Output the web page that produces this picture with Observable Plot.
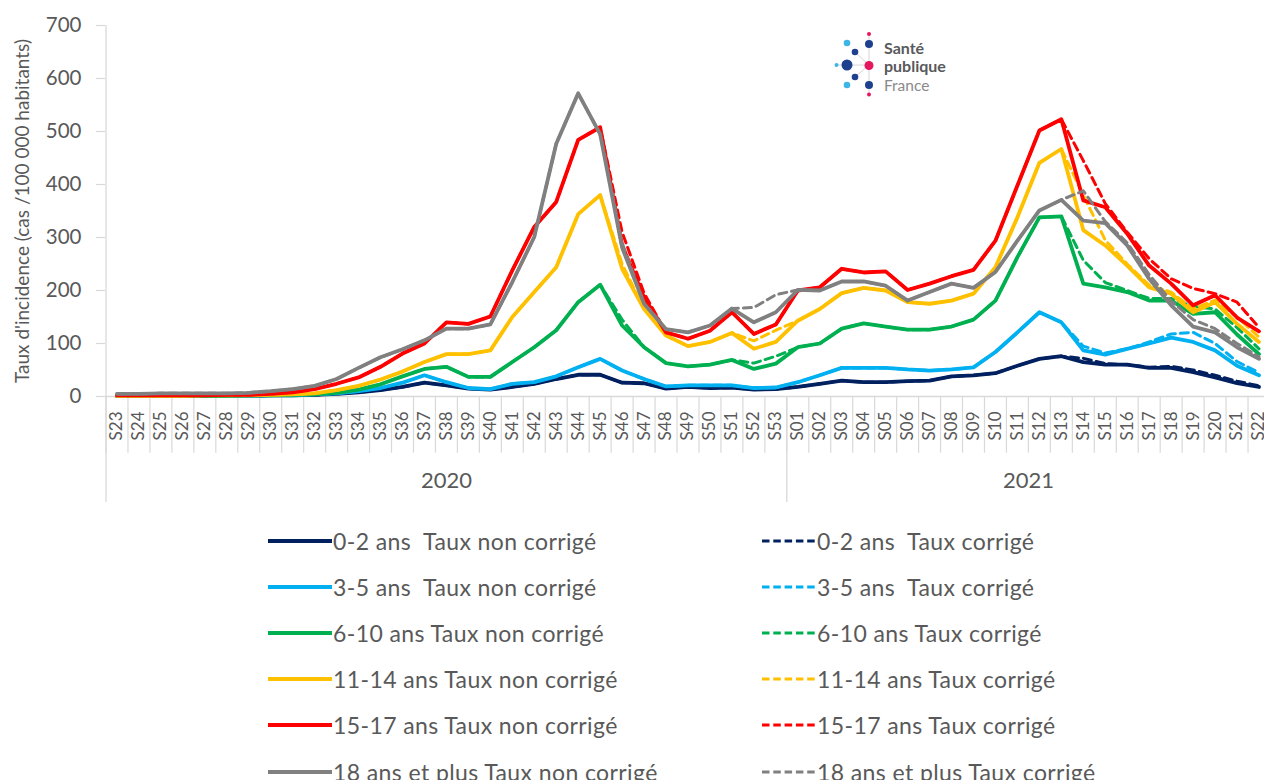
<!DOCTYPE html>
<html><head><meta charset="utf-8">
<script src="https://cdn.jsdelivr.net/npm/d3@7"></script>
<script src="https://cdn.jsdelivr.net/npm/@observablehq/plot@0.6"></script>
<style>
html,body{margin:0;padding:0;background:#fff;overflow:hidden;}
#wrap{position:relative;width:1264px;height:780px;overflow:hidden;font-family:Lato,"Open Sans",sans-serif;color:#595959;}
#chart{position:absolute;left:0;top:0;}
.lg{position:absolute;display:flex;align-items:center;height:30px;font-size:23px;letter-spacing:0.4px;white-space:pre;color:#595959;}
.lg svg{display:block;margin-right:1px;}
#logo{position:absolute;left:825px;top:25px;}
</style></head><body><div id="wrap"><div id="chart"></div><div id="legend"></div>
<svg id="logo" width="145" height="80" viewBox="0 0 145 80">
  <g stroke="#d6d6d6" stroke-width="1" fill="none">
    <line x1="44" y1="9" x2="44" y2="70"/><line x1="11" y1="40" x2="44" y2="40"/>
    <line x1="30" y1="27" x2="44" y2="40"/><line x1="30" y1="52" x2="44" y2="40"/>
  </g>
  <circle cx="44" cy="9" r="2" fill="#e5175f"/>
  <circle cx="22" cy="18" r="3.3" fill="#3db5e6"/>
  <circle cx="44" cy="19" r="4" fill="#1f3f8f"/>
  <circle cx="30" cy="27" r="3.3" fill="#1f3f8f"/>
  <circle cx="11.5" cy="40" r="2" fill="#3db5e6"/>
  <circle cx="22" cy="40" r="5.5" fill="#1f3f8f"/>
  <circle cx="44" cy="40.5" r="4.5" fill="#e5175f"/>
  <circle cx="30" cy="52" r="3.3" fill="#1f3f8f"/>
  <circle cx="22" cy="60" r="3.3" fill="#3db5e6"/>
  <circle cx="44" cy="60" r="4" fill="#1f3f8f"/>
  <circle cx="44" cy="69.5" r="2" fill="#e5175f"/>
  <text x="59" y="29" font-family="Lato" font-weight="bold" font-size="16" fill="#58595b">Santé</text>
  <text x="59" y="46.5" font-family="Lato" font-weight="bold" font-size="16" fill="#58595b">publique</text>
  <text x="59" y="65.5" font-family="Lato" font-size="15.5" fill="#8a8a8a">France</text>
</svg>
</div>
<script>
// ---- categories ----
const weeks = ["S23","S24","S25","S26","S27","S28","S29","S30","S31","S32","S33","S34","S35","S36","S37","S38","S39","S40","S41","S42","S43","S44","S45","S46","S47","S48","S49","S50","S51","S52","S53",
  "S01","S02","S03","S04","S05","S06","S07","S08","S09","S10","S11","S12","S13","S14","S15","S16","S17","S18","S19","S20","S21","S22"];
const yearLabels = ["2020","2021"];
const yearFirstWeek = ["S23","S01"];
const yearLastWeek = ["S53","S22"];
const yTicks = [0,100,200,300,400,500,600,700];
const yTitle = "Taux d'incidence (cas /100 000 habitants)";

// ---- series values (cas / 100 000) ----
const nc_0_2 = [1,1,1,1,1,1,1,2,2,3,5,8,12,18,26,21,15,13,18,24,33,41,41,26,25,15,18,16,17,13,14,
  18,24,30,27,27,29,30,38,40,44,58,71,76,65,60,60,54,54,46,36,25,18];
const c_0_2 = [1,1,1,1,1,1,1,2,2,3,5,8,12,18,26,21,15,13,18,24,33,41,41,26,25,15,18,16,17,13,14,
  18,24,30,27,27,29,30,38,40,44,58,71,76,72,62,60,55,57,50,40,29,20];
const nc_3_5 = [1,1,1,1,1,1,1,2,2,4,6,10,16,26,40,27,16,14,24,27,38,55,71,49,33,19,21,21,21,16,17,
  27,40,54,54,54,51,49,51,55,84,121,159,140,87,79,90,100,111,103,87,58,40];
const c_3_5 = [1,1,1,1,1,1,1,2,2,4,6,10,16,26,40,27,16,14,24,27,38,55,71,49,33,19,21,21,21,16,17,
  27,40,54,54,54,51,49,51,55,84,121,159,140,95,82,90,103,118,121,100,66,45];
const nc_6_10 = [1,1,1,1,1,1,2,2,3,4,7,13,23,38,52,56,37,37,65,93,125,178,211,134,93,63,57,60,69,52,62,
  93,100,128,138,132,126,126,132,145,181,263,338,340,213,206,197,181,181,156,159,117,80];
const c_6_10 = [1,1,1,1,1,1,2,2,3,4,7,13,23,38,52,56,37,37,65,93,125,178,211,145,93,63,57,60,69,63,76,
  93,100,128,138,132,126,126,132,145,181,263,338,340,257,215,200,185,185,170,165,130,90];
const nc_11_14 = [1,1,1,1,2,2,2,3,4,6,12,20,32,47,65,80,80,87,150,197,244,344,380,241,165,115,95,103,120,90,103,
  143,165,195,205,200,178,175,181,194,244,338,441,467,314,285,247,206,194,159,178,137,103];
const c_11_14 = [1,1,1,1,2,2,2,3,4,6,12,20,32,47,65,80,80,87,150,197,244,344,380,250,165,115,95,103,120,105,125,
  143,165,195,205,200,178,175,181,194,244,338,441,467,380,295,250,210,197,165,182,150,112];
const nc_15_17 = [2,2,2,2,2,3,3,5,8,14,24,36,56,81,100,140,137,151,238,320,367,484,508,285,187,121,109,124,159,118,136,
  200,206,241,234,236,201,213,227,239,294,398,502,523,370,357,307,247,213,172,191,149,123];
const c_15_17 = [2,2,2,2,2,3,3,5,8,14,24,36,56,81,100,140,137,151,238,320,367,484,508,310,195,121,109,124,159,118,136,
  200,206,241,234,236,201,213,227,239,294,398,502,523,445,364,310,260,222,204,194,178,130];
const nc_18 = [5,5,6,6,6,6,7,10,14,20,33,54,74,89,106,128,128,136,216,301,477,572,495,281,175,127,121,134,166,140,159,
  201,200,217,217,209,181,197,213,205,235,294,351,371,332,327,285,222,172,132,121,93,71];
const c_18 = [5,5,6,6,6,6,7,10,14,20,33,54,74,89,106,128,128,136,216,301,477,572,495,290,175,127,121,134,166,168,192,
  201,200,217,217,209,181,197,213,205,235,294,351,371,388,330,290,230,180,145,128,100,75];

// ---- legend labels ----
const labelsNC = ["0-2 ans  Taux non corrigé","3-5 ans  Taux non corrigé","6-10 ans Taux non corrigé","11-14 ans Taux non corrigé","15-17 ans Taux non corrigé","18 ans et plus Taux non corrigé"];
const labelsC = ["0-2 ans  Taux corrigé","3-5 ans  Taux corrigé","6-10 ans Taux corrigé","11-14 ans Taux corrigé","15-17 ans Taux corrigé","18 ans et plus Taux corrigé"];

// ---- styles ----
const colors = ["#002060","#00B0F0","#00B050","#FFC000","#FF0000","#808080"];
const ncSeries = [nc_0_2, nc_3_5, nc_6_10, nc_11_14, nc_15_17, nc_18];
const cSeries = [c_0_2, c_3_5, c_6_10, c_11_14, c_15_17, c_18];
const textColor = "#595959", gridColor = "#d9d9d9";
const W = 1264, H = 515, x0 = 116.5, x1 = 1258.5;
const step = (x1 - x0) / (weeks.length - 1);
const dash = "8,5";

const rows = [];
ncSeries.forEach((vals, k) => {
  vals.forEach((v, i) => rows.push({week: weeks[i], value: v, series: labelsNC[k], k, type: "nc"}));
  cSeries[k].forEach((v, i) => rows.push({week: weeks[i], value: v, series: labelsC[k], k, type: "c"}));
});

const lineMarks = [];
colors.forEach((col, k) => {
  lineMarks.push(Plot.line(rows.filter(r => r.k === k && r.type === "nc"), {x: "week", y: "value", stroke: col, strokeWidth: 3.8, strokeLinejoin: "round", strokeLinecap: "round"}));
  lineMarks.push(Plot.line(rows.filter(r => r.k === k && r.type === "c"), {x: "week", y: "value", stroke: col, strokeWidth: 3, strokeDasharray: dash, strokeLinejoin: "round"}));
});

const yearMarks = yearLabels.map((lab, j) => {
  const i0 = weeks.indexOf(yearFirstWeek[j]), i1 = weeks.indexOf(yearLastWeek[j]);
  const mid = (i0 + i1) / 2;
  return Plot.text([lab], {x: () => weeks[Math.floor(mid)], frameAnchor: "bottom", dx: (mid % 1) * step, dy: 91, text: d => d, fontSize: 22, fill: textColor});
});

const chart = Plot.plot({
  width: W, height: H,
  marginLeft: 105, marginRight: 0, marginTop: 25, marginBottom: H - 396,
  x: {type: "point", domain: weeks, range: [x0, x1], padding: 0, align: 0.5, axis: null},
  y: {domain: [0, 700], range: [396, 25], axis: null},
  style: {fontFamily: "Lato, sans-serif", background: "transparent", overflow: "visible", color: textColor},
  marks: [
    Plot.ruleX(weeks, {x: d => d, y1: 0, y2: -107, dx: -step / 2, stroke: gridColor, strokeWidth: 1.2}),
    Plot.ruleX([yearFirstWeek[0]], {x: d => d, y1: 700, y2: -200, dx: -step / 2, stroke: gridColor, strokeWidth: 1.3}),
    Plot.ruleX(yearFirstWeek.slice(1), {x: d => d, y1: 0, y2: -200, dx: -step / 2, stroke: gridColor, strokeWidth: 1.3}),
    Plot.ruleY([0], {stroke: gridColor, strokeWidth: 1.4}),
    Plot.ruleY(yTicks, {y: d => d, insetLeft: -9, insetRight: W - 105, stroke: gridColor, strokeWidth: 1.2}),
    Plot.text(yTicks, {y: d => d, text: d => String(d), frameAnchor: "left", textAnchor: "end", dx: -24, fontSize: 20.5, fill: textColor}),
    Plot.text([yTitle], {frameAnchor: "left", textAnchor: "middle", dx: -83, rotate: -90, text: d => d, fontSize: 19, fill: textColor}),
    Plot.text(weeks, {x: d => d, y: 0, text: d => d, rotate: -90, textAnchor: "end", dy: 15, fontSize: 17, fill: textColor}),
    ...yearMarks,
    ...lineMarks
  ]
});
document.getElementById("chart").appendChild(chart);

// ---- legend (below the chart) ----
const legend = document.getElementById("legend");
const rowY0 = 541, rowGap = 46.1;
labelsNC.forEach((lab, k) => {
  const addItem = (left, text, width, dashed) => {
    const d = document.createElement("div");
    d.className = "lg";
    d.style.left = left + "px";
    d.style.top = (rowY0 + k * rowGap - 15) + "px";
    d.innerHTML = `<svg width="${width}" height="8"><line x1="0" y1="4" x2="${width}" y2="4" stroke="${colors[k]}" stroke-width="${dashed ? 3 : 4}" ${dashed ? 'stroke-dasharray="7.5,3.8"' : 'stroke-linecap="butt"'}/></svg><span></span>`;
    d.querySelector("span").textContent = text;
    legend.appendChild(d);
  };
  addItem(268, lab, 64, false);
  addItem(762, labelsC[k], 54, true);
});
</script>
</body></html>
